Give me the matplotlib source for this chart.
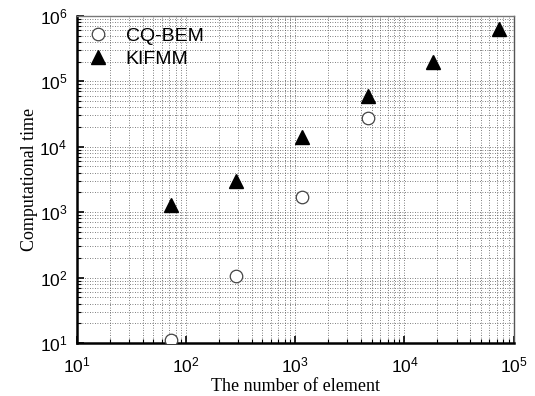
import matplotlib
matplotlib.use("Agg")
import matplotlib.pyplot as plt
from matplotlib.ticker import LogLocator, NullFormatter

elements = [72, 288, 1152, 4608, 18432, 73728]
cq_bem_n = [72, 288, 1152, 4608]
cq_bem_t = [11, 105, 1700, 27000]
kifmm_n = [72, 288, 1152, 4608, 18432, 73728]
kifmm_t = [1300, 3000, 14000, 60000, 200000, 630000]

fig = plt.figure(figsize=(5.35, 3.96), dpi=100)
ax = fig.add_axes([0.144, 0.134, 0.816, 0.826])

ax.set_xscale("log")
ax.set_yscale("log")
ax.set_xlim(10, 1e5)
ax.set_ylim(10, 1e6)

ax.grid(True, which="both", linestyle=(0, (1, 2)), color="#555555", linewidth=0.6)
ax.set_axisbelow(True)

ax.plot(cq_bem_n, cq_bem_t, linestyle="none", marker="o", markersize=9,
        markerfacecolor="white", markeredgecolor="#444444", markeredgewidth=0.9,
        label="CQ-BEM", zorder=3)
ax.plot(kifmm_n, kifmm_t, linestyle="none", marker="^", markersize=10,
        color="black", label="KIFMM", zorder=3)

sans = ["Liberation Sans", "DejaVu Sans"]
serif = ["Liberation Serif", "DejaVu Serif"]

ax.set_xlabel("The number of element", fontsize=13, family=serif, labelpad=2)
ax.set_ylabel("Computational time", fontsize=13, family=serif, labelpad=1)

ax.xaxis.set_major_locator(LogLocator(base=10, numticks=10))
ax.yaxis.set_major_locator(LogLocator(base=10, numticks=10))
ax.xaxis.set_minor_locator(LogLocator(base=10, subs=range(2, 10), numticks=10))
ax.yaxis.set_minor_locator(LogLocator(base=10, subs=range(2, 10), numticks=10))
ax.xaxis.set_minor_formatter(NullFormatter())
ax.yaxis.set_minor_formatter(NullFormatter())

ax.tick_params(which="both", direction="in", top=False, right=False)
ax.tick_params(which="major", length=5, width=1.2, labelsize=12.5)
ax.tick_params(axis="x", which="major", pad=9)
ax.tick_params(axis="y", which="major", pad=7)
ax.tick_params(which="minor", length=3, width=0.8)
for lab in ax.get_xticklabels() + ax.get_yticklabels():
    lab.set_family(sans)

ax.spines["left"].set_linewidth(1.8)
ax.spines["bottom"].set_linewidth(1.8)
ax.spines["top"].set_linewidth(1.0)
ax.spines["top"].set_color("#777777")
ax.spines["right"].set_linewidth(1.0)
ax.spines["right"].set_color("#555555")

leg = ax.legend(loc="upper left", frameon=False, prop={"family": sans, "size": 14},
                handlelength=1.0, handletextpad=0.9, borderaxespad=0.2, labelspacing=0.25,
                bbox_to_anchor=(0.0, 1.0))

fig.savefig("out.png", dpi=100)
